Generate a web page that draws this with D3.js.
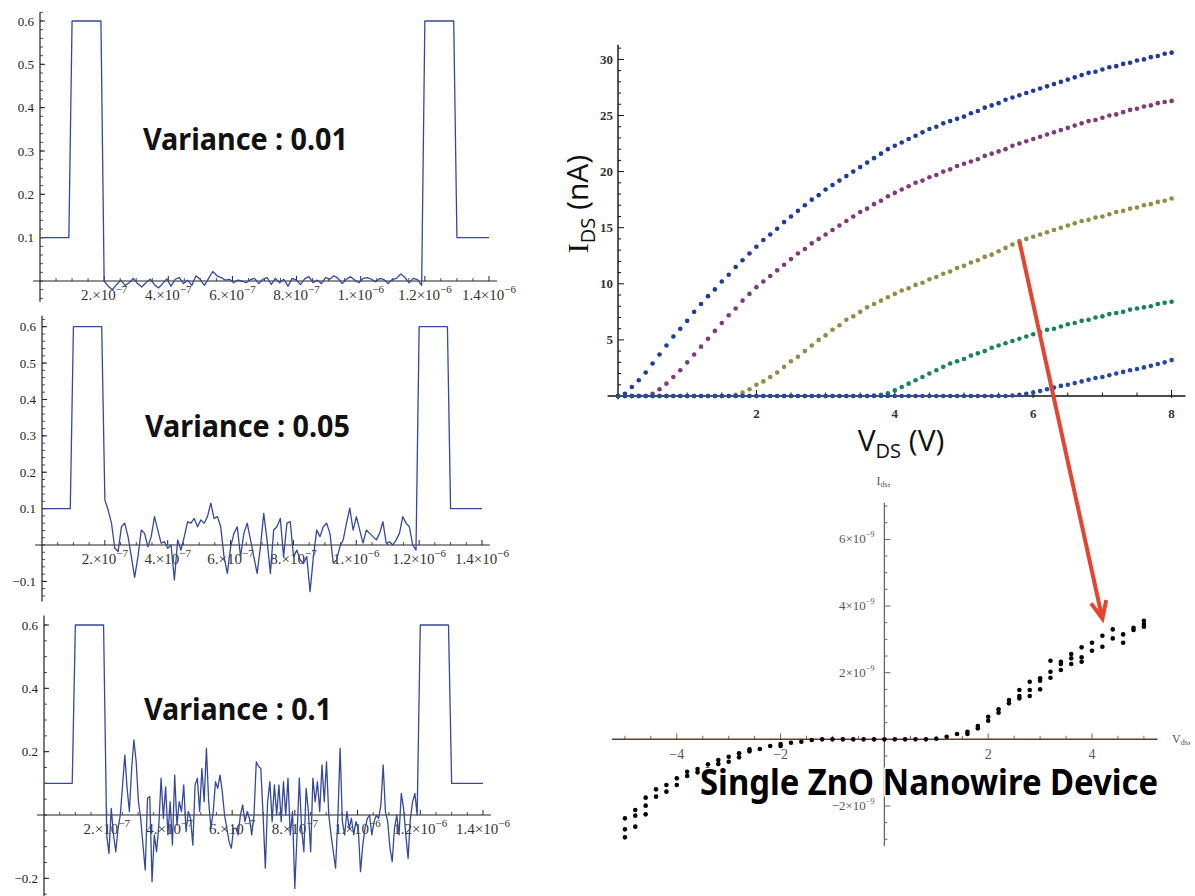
<!DOCTYPE html>
<html><head><meta charset="utf-8">
<script src="https://cdn.jsdelivr.net/npm/d3@7"></script>
<style>body{margin:0;background:#fff}svg{display:block}</style>
</head><body>
<svg id="c" width="1195" height="896"></svg>
<script>
// ---------------- DATA ----------------
// Left: pulse waveforms (time in units of 1e-6 s)
const pulseHeadT = [0, 0.09, 0.10, 0.19];
const pulseHeadV = [0.1, 0.1, 0.6, 0.6];
const pulseTailT = [1.20, 1.29, 1.30, 1.40];
const pulseTailV = [0.6, 0.6, 0.1, 0.1];
const noiseStartT = 0.20, noiseEndT = 1.19;
const noise001 = [0,-0.012,-0.02,-0.008,0.002,-0.01,-0.004,0.006,-0.006,-0.014,-0.004,0.004,-0.008,-0.016,-0.006,0.005,-0.012,0.004,0.008,-0.006,0.002,-0.01,0.012,0.004,-0.01,0.006,0.022,0.012,0.008,0.002,0.004,-0.004,0.002,0,-0.004,0.003,0.006,-0.006,0.004,0.008,-0.008,0.006,-0.004,0.004,-0.012,0.006,0.002,-0.008,0.005,0.01,-0.004,0.002,-0.006,0.008,0.004,0.012,0.006,-0.006,0.004,0.01,0.002,-0.004,0.006,0.008,0.004,-0.002,0.006,0.003,-0.006,0.004,0.006,0.016,0.008,-0.004,0.006,0.003,-0.01];
const noise005 = [0.124,0.096,0.060,-0.009,-0.018,0.050,0.060,0.023,-0.032,-0.089,-0.032,0.041,0.032,-0.005,0.023,0.078,0.041,0.005,0.009,-0.009,0.0,-0.096,0.014,-0.014,0.023,0.064,0.060,0.073,0.050,0.069,0.060,0.078,0.115,0.073,0.078,0.050,-0.032,-0.078,-0.005,0.032,0.050,-0.032,0.032,0.060,0.014,-0.032,-0.078,-0.005,0.087,0.014,-0.078,0.041,0.050,0.073,-0.032,0.060,0.064,-0.032,-0.014,-0.041,-0.050,-0.032,-0.128,-0.032,0.041,0.023,0.050,0.060,0.032,-0.050,-0.041,-0.005,0.014,0.060,0.101,0.041,0.078,0.041,0.005,0.041,0.032,0.023,0.014,0.032,0.064,0.005,0.009,0.0,0.014,0.032,0.078,0.060,0.050,0.0,-0.014];
const noise01 = [-0.063,-0.121,0.021,-0.063,-0.116,-0.042,0,0.095,0.189,0.084,0.011,0.147,0.237,0.168,0.042,-0.011,-0.095,-0.174,0.053,0.058,-0.211,-0.063,-0.116,-0.032,0.116,-0.011,0.089,-0.063,0.042,-0.095,0.126,-0.032,0.042,0.011,0.095,-0.053,0.011,-0.011,-0.095,0.095,0.116,0.011,0.147,0.042,0.211,0.042,-0.042,0.011,0.105,0.084,0.126,0.074,0,-0.042,-0.084,-0.105,-0.042,-0.042,-0.063,0,0.032,-0.021,0.011,-0.011,-0.063,0,0.168,0.153,0.147,0,-0.168,0.042,0.105,-0.021,0.095,0,0.095,-0.021,0.105,0,0.116,-0.063,0.011,-0.232,-0.063,0.116,-0.042,-0.116,0.084,0.011,-0.116,0.116,0.042,0.105,0.011,0.158,0.042,0.168,0,-0.063,-0.116,-0.168,-0.011,0.211,-0.021,-0.063,0.011,-0.042,-0.011,-0.063,-0.021,-0.042,-0.179,-0.095,-0.042,-0.011,0,-0.063,-0.021,0,-0.011,0.032,0.158,0.011,-0.021,-0.105,-0.147,-0.042,0,-0.063,0.068,0.021,-0.063,-0.137,-0.011,0.042,0.068,0];
const varianceLabels = ["Variance : 0.01", "Variance : 0.05", "Variance : 0.1"];
const timeTickVals = [0.2, 0.4, 0.6, 0.8, 1.0, 1.2, 1.4];
const timeTickMant = ["2.", "4.", "6.", "8.", "1.", "1.2", "1.4"];
const timeTickExp  = ["−7", "−7", "−7", "−7", "−6", "−6", "−6"];

// Top right: I-V curves (V in volts, I in nA), sampled every 0.1 V from 0 to 8
const ivStepV = 0.1;
const ivCurveA = [0,0.2,0.8,1.4,2.1,2.9,3.7,4.5,5.3,6.0,6.7,7.5,8.2,8.9,9.5,10.2,10.8,11.5,12.1,12.7,13.3,13.9,14.4,14.9,15.5,16.0,16.5,17.0,17.5,17.9,18.4,18.8,19.2,19.6,20.0,20.4,20.8,21.2,21.6,22.0,22.3,22.6,22.9,23.2,23.5,23.8,24.0,24.3,24.5,24.7,24.9,25.2,25.4,25.7,25.9,26.1,26.4,26.6,26.8,27.0,27.2,27.4,27.6,27.8,28.0,28.2,28.4,28.6,28.8,28.9,29.1,29.3,29.4,29.6,29.7,29.9,30.0,30.2,30.3,30.5,30.6];
const ivCurveB = [0,0,0,0,0,0.2,0.6,1.1,1.7,2.3,3.0,3.7,4.4,5.1,5.8,6.5,7.2,7.8,8.5,9.1,9.7,10.2,10.7,11.2,11.7,12.2,12.7,13.1,13.6,14.0,14.4,14.8,15.2,15.6,16.0,16.4,16.7,17.1,17.4,17.8,18.1,18.4,18.7,19.0,19.2,19.5,19.7,20.0,20.2,20.5,20.7,20.9,21.1,21.4,21.6,21.8,22.0,22.3,22.5,22.7,22.9,23.1,23.3,23.5,23.7,23.9,24.1,24.3,24.5,24.6,24.8,25.0,25.1,25.3,25.5,25.6,25.8,25.9,26.1,26.2,26.3];
const ivCurveC = [0,0,0,0,0,0,0,0,0,0,0,0,0,0,0,0,0,0.1,0.3,0.6,1.0,1.3,1.7,2.1,2.6,3.1,3.5,4.0,4.5,5.0,5.4,5.9,6.3,6.8,7.1,7.5,7.9,8.2,8.5,8.8,9.1,9.4,9.6,9.9,10.1,10.4,10.6,10.9,11.1,11.4,11.6,11.9,12.1,12.4,12.6,12.9,13.2,13.5,13.8,14.0,14.2,14.4,14.6,14.8,15.0,15.2,15.4,15.6,15.7,15.9,16.0,16.2,16.4,16.5,16.7,16.8,17.0,17.1,17.3,17.4,17.6];
const ivCurveD = [0,0,0,0,0,0,0,0,0,0,0,0,0,0,0,0,0,0,0,0,0,0,0,0,0,0,0,0,0,0,0,0,0,0,0,0,0,0.05,0.1,0.25,0.5,0.8,1.1,1.4,1.7,2.0,2.3,2.6,2.9,3.1,3.3,3.6,3.8,4.0,4.3,4.5,4.7,4.9,5.1,5.3,5.5,5.7,5.9,6.0,6.2,6.4,6.5,6.7,6.8,7.0,7.1,7.3,7.4,7.5,7.7,7.8,7.9,8.0,8.2,8.3,8.4];
const ivCurveE = [0,0,0,0,0,0,0,0,0,0,0,0,0,0,0,0,0,0,0,0,0,0,0,0,0,0,0,0,0,0,0,0,0,0,0,0,0,0,0,0,0,0,0,0,0,0,0,0,0,0,0,0,0,0,0,0,0,0.05,0.1,0.2,0.3,0.45,0.6,0.75,0.9,1.0,1.15,1.3,1.45,1.6,1.7,1.85,2.0,2.15,2.3,2.4,2.55,2.7,2.85,3.0,3.2];
const ivColors = ["#1f3a98", "#7d3b7c", "#8f8c44", "#17825c", "#2848a0"];
const ivXTicks = [2, 4, 6, 8];
const ivYTicks = [5, 10, 15, 20, 25, 30];

// Bottom right: single ZnO nanowire scatter (V, I in units of 1e-9 A)
const scatterV = [-5,-5,-5,-4.8,-4.8,-4.8,-4.6,-4.6,-4.6,-4.4,-4.4,-4.2,-4.2,-4,-4,-3.8,-3.8,-3.6,-3.6,-3.4,-3.4,-3.2,-3.2,-3,-3,-2.8,-2.8,-2.6,-2.6,-2.4,-2.2,-2,-2,-1.8,-1.6,-1.4,-1.2,-1,-0.8,-0.6,-0.4,-0.2,0,0.2,0.4,0.6,0.8,1,1.2,1.4,1.6,1.6,1.8,1.8,2,2,2.2,2.2,2.4,2.4,2.6,2.6,2.6,2.8,2.8,2.8,3,3,3,3.2,3.2,3.2,3.4,3.4,3.4,3.6,3.6,3.6,3.8,3.8,3.8,4,4,4.2,4.2,4.4,4.4,4.6,4.6,4.8,4.8,5,5,5];
const scatterI = [-2.37,-2.70,-2.94,-2.12,-2.29,-2.62,-1.75,-1.99,-2.25,-1.50,-1.72,-1.37,-1.57,-1.17,-1.37,-0.97,-1.10,-0.89,-0.99,-0.75,-0.89,-0.62,-0.74,-0.52,-0.67,-0.42,-0.54,-0.30,-0.36,-0.29,-0.20,-0.14,-0.20,-0.10,-0.07,-0.02,0,0,0,0,0,0,0,0,0,0,0,0.02,0.08,0.16,0.23,0.16,0.40,0.33,0.68,0.56,0.90,0.80,1.18,1.08,1.48,1.30,1.23,1.73,1.48,1.30,1.83,1.76,1.50,2.36,2.03,1.85,2.33,2.26,2.08,2.56,2.43,2.26,2.76,2.46,2.33,2.90,2.66,3.11,2.78,3.30,3.03,3.15,2.90,3.35,3.28,3.56,3.46,3.38];
const scXTicks = [-4, -2, 2, 4];
const scXTickLabels = ["−4", "−2", "2", "4"];
const scYTicks = [6, 4, 2, -2];
const scYTickMant = ["6", "4", "2", "−2"];
const deviceLabel = "Single ZnO Nanowire Device";
// arrow: from a point on curve C to a point on the scatter
const arrowFrom = {v: 5.8, i: 13.8};
const arrowTo = {v: 4.2, i: 3.62};

// ---------------- DRAW ----------------
const svg = d3.select("#c");
const serif = "'Liberation Serif','DejaVu Serif',serif";
const boldSans = "'Noto Sans','Open Sans',sans-serif";
const lineColor = "#34499c";

const leftPanels = [
  {noise: noise001, x: [40, 489], y0: 281, y06: 21, yLine: [-0.048, 0.62], major: [0.1,0.2,0.3,0.4,0.5,0.6], minorStep: 0.02, minorRange: [-0.04, 0.62], labelPos: [143, 150, 205]},
  {noise: noise005, x: [42, 482], y0: 545, y06: 326.7, yLine: [-0.155, 0.63], major: [-0.1,0.1,0.2,0.3,0.4,0.5,0.6], minorStep: 0.02, minorRange: [-0.14, 0.62], labelPos: [145, 437, 205]},
  {noise: noise01, x: [44, 483], y0: 815, y06: 625, yLine: [-0.27, 0.63], major: [-0.2,0.2,0.4,0.6], minorStep: 0.05, minorRange: [-0.25, 0.6], labelPos: [144, 720, 188]}
];

leftPanels.forEach((p, k) => {
  const g = svg.append("g");
  const x = d3.scaleLinear().domain([0, 1.4]).range(p.x);
  const y = d3.scaleLinear().domain([0, 0.6]).range([p.y0, p.y06]);
  const axColor = "#222";
  g.append("line").attr("x1", x(0)).attr("x2", x(0)).attr("y1", y(p.yLine[0])).attr("y2", y(p.yLine[1]))
    .attr("stroke", axColor).attr("stroke-width", 1.2);
  g.append("line").attr("x1", x(-0.022)).attr("x2", x(1.425)).attr("y1", y(0)).attr("y2", y(0))
    .attr("stroke", axColor).attr("stroke-width", 1.2);
  const nMinor = Math.round((p.minorRange[1] - p.minorRange[0]) / p.minorStep);
  for (let i = 0; i <= nMinor; i++) {
    const v = p.minorRange[0] + i * p.minorStep;
    g.append("line").attr("x1", x(0)).attr("x2", x(0) + 3).attr("y1", y(v)).attr("y2", y(v))
      .attr("stroke", axColor).attr("stroke-width", 0.8);
  }
  p.major.forEach(v => {
    g.append("line").attr("x1", x(0)).attr("x2", x(0) + 5).attr("y1", y(v)).attr("y2", y(v))
      .attr("stroke", axColor).attr("stroke-width", 1);
    g.append("text").attr("x", x(0) - 6).attr("y", y(v) + 4.5).attr("text-anchor", "end")
      .attr("font-family", serif).attr("font-size", 13).attr("fill", "#222")
      .text((v < 0 ? "−" : "") + Math.abs(v).toFixed(1));
  });
  for (let i = 1; i <= 28; i++) {
    const t = i * 0.05;
    const major = (i % 4 === 0);
    g.append("line").attr("x1", x(t)).attr("x2", x(t)).attr("y1", y(0)).attr("y2", y(0) - (major ? 5 : 3))
      .attr("stroke", axColor).attr("stroke-width", major ? 1 : 0.8);
  }
  timeTickVals.forEach((t, j) => {
    const tx = g.append("text").attr("x", x(t)).attr("y", y(0) + 19).attr("text-anchor", "middle")
      .attr("font-family", serif).attr("font-size", 15).attr("fill", "#333");
    tx.append("tspan").text(timeTickMant[j] + "×10");
    tx.append("tspan").attr("dy", -7).attr("font-size", 11).text(timeTickExp[j]);
  });
  const n = p.noise.length;
  const pts = [];
  pulseHeadT.forEach((t, i) => pts.push([t, pulseHeadV[i]]));
  p.noise.forEach((v, i) => pts.push([noiseStartT + i * (noiseEndT - noiseStartT) / (n - 1), v]));
  pulseTailT.forEach((t, i) => pts.push([t, pulseTailV[i]]));
  g.append("path").attr("d", d3.line().x(d => x(d[0])).y(d => y(d[1]))(pts))
    .attr("fill", "none").attr("stroke", lineColor).attr("stroke-width", 1.3).attr("stroke-linejoin", "round");
  g.append("text").attr("x", p.labelPos[0]).attr("y", p.labelPos[1])
    .attr("font-family", boldSans).attr("font-weight", 700).attr("font-size", 30)
    .attr("textLength", p.labelPos[2]).attr("lengthAdjust", "spacingAndGlyphs")
    .attr("fill", "#111").text(varianceLabels[k]);
});

// ---- I-V panel ----
const ivX = d3.scaleLinear().domain([0, 8]).range([618, 1171.6]);
const ivY = d3.scaleLinear().domain([0, 30]).range([396, 59.4]);
const ivG = svg.append("g");
ivG.append("line").attr("x1", ivX(0)).attr("x2", ivX(0)).attr("y1", ivY(-0.3)).attr("y2", ivY(31.3))
  .attr("stroke", "#111").attr("stroke-width", 1.4);
ivG.append("line").attr("x1", ivX(-0.15)).attr("x2", ivX(8.2)).attr("y1", ivY(0)).attr("y2", ivY(0))
  .attr("stroke", "#111").attr("stroke-width", 1.4);
for (let i = 1; i <= 31; i++) {
  const major = i % 5 === 0;
  ivG.append("line").attr("x1", ivX(0)).attr("x2", ivX(0) + (major ? 6 : 3)).attr("y1", ivY(i)).attr("y2", ivY(i))
    .attr("stroke", "#111").attr("stroke-width", 1);
}
for (let i = 1; i <= 16; i++) {
  const v = i * 0.5;
  const major = i % 4 === 0;
  ivG.append("line").attr("x1", ivX(v)).attr("x2", ivX(v)).attr("y1", ivY(0) + (major ? 2 : 0)).attr("y2", ivY(0) - (major ? 6 : 3.5))
    .attr("stroke", "#111").attr("stroke-width", 1);
}
ivYTicks.forEach(v => ivG.append("text").attr("x", ivX(0) - 5).attr("y", ivY(v) + 4.5).attr("text-anchor", "end")
  .attr("font-family", serif).attr("font-size", 13).attr("font-weight", 700).attr("fill", "#333").text(v));
ivXTicks.forEach(v => ivG.append("text").attr("x", ivX(v)).attr("y", ivY(0) + 22).attr("text-anchor", "middle")
  .attr("font-family", serif).attr("font-size", 13).attr("font-weight", 700).attr("fill", "#333").text(v));
[ivCurveA, ivCurveB, ivCurveC, ivCurveD, ivCurveE].forEach((arr, s) => {
  ivG.append("g").selectAll("circle").data(arr).join("circle")
    .attr("cx", (d, i) => ivX(i * ivStepV)).attr("cy", d => ivY(d)).attr("r", 2.3)
    .attr("fill", ivColors[s]);
});
const yl = ivG.append("text").attr("transform", "translate(588,204) rotate(-90)").attr("text-anchor", "middle")
  .attr("font-family", "'Open Sans','DejaVu Sans',sans-serif").attr("font-size", 30).attr("fill", "#111");
yl.append("tspan").attr("font-family", serif).text("I");
yl.append("tspan").attr("font-size", 20).attr("dy", 7).text("DS");
yl.append("tspan").attr("dy", -7).text(" (nA)");
const xl = ivG.append("text").attr("x", 901).attr("y", 451).attr("text-anchor", "middle")
  .attr("font-family", "'Open Sans','DejaVu Sans',sans-serif").attr("font-size", 30).attr("fill", "#111");
xl.append("tspan").text("V");
xl.append("tspan").attr("font-size", 20).attr("dy", 7).text("DS");
xl.append("tspan").attr("dy", -7).text(" (V)");

// ---- scatter panel ----
const scX = d3.scaleLinear().domain([-5, 5]).range([624.9, 1143.9]);
const scY = d3.scaleLinear().domain([-2, 6]).range([806, 539.4]);
const scG = svg.append("g");
scG.append("line").attr("x1", scX(0)).attr("x2", scX(0)).attr("y1", scY(-3.2)).attr("y2", scY(7.1))
  .attr("stroke", "#666").attr("stroke-width", 1.3);
for (let i = -6; i <= 14; i++) {
  const v = i * 0.5;
  if (v === 0) continue;
  const major = i % 4 === 0;
  scG.append("line").attr("x1", scX(0)).attr("x2", scX(0) + (major ? 6 : 3)).attr("y1", scY(v)).attr("y2", scY(v))
    .attr("stroke", "#666").attr("stroke-width", 1);
}
for (let i = -10; i <= 10; i++) {
  const v = i * 0.5;
  if (v === 0) continue;
  const major = i % 4 === 0;
  scG.append("line").attr("x1", scX(v)).attr("x2", scX(v)).attr("y1", scY(0)).attr("y2", scY(0) - (major ? 6 : 3.5))
    .attr("stroke", "#666").attr("stroke-width", 1);
}
scG.append("line").attr("x1", scX(-5.25)).attr("x2", scX(5.26)).attr("y1", scY(0)).attr("y2", scY(0))
  .attr("stroke", "#7a3128").attr("stroke-width", 1.5);
scYTicks.forEach((v, j) => {
  const t = scG.append("text").attr("x", scX(0) - 10).attr("y", scY(v) + 4).attr("text-anchor", "end")
    .attr("font-family", serif).attr("font-size", 13).attr("fill", "#555");
  t.append("tspan").text(scYTickMant[j] + "×10");
  t.append("tspan").attr("dy", -6).attr("font-size", 8).text("−9");
});
scXTicks.forEach((v, j) => scG.append("text").attr("x", scX(v)).attr("y", scY(0) + 20).attr("text-anchor", "middle")
  .attr("font-family", serif).attr("font-size", 14).attr("fill", "#555").text(scXTickLabels[j]));
const il = scG.append("text").attr("x", scX(0) - 8).attr("y", 485).attr("font-family", serif).attr("font-size", 12).attr("fill", "#555");
il.append("tspan").text("I"); il.append("tspan").attr("font-size", 8).attr("dy", 2).text("ds"); il.append("tspan").attr("dy", -2).text(",");
const vl = scG.append("text").attr("x", 1172).attr("y", scY(0) + 4).attr("font-family", serif).attr("font-size", 12).attr("fill", "#555");
vl.append("tspan").text("V"); vl.append("tspan").attr("font-size", 8).attr("dy", 2).text("ds"); vl.append("tspan").attr("dy", -2).text(",");
scG.append("g").selectAll("circle").data(scatterV).join("circle")
  .attr("cx", d => scX(d)).attr("cy", (d, i) => scY(scatterI[i])).attr("r", 2.3).attr("fill", "#000");
scG.append("text").attr("x", 700).attr("y", 795)
  .attr("font-family", boldSans).attr("font-weight", 700).attr("font-size", 35)
  .attr("textLength", 458).attr("lengthAdjust", "spacingAndGlyphs")
  .attr("fill", "#000").attr("stroke", "#fff").attr("stroke-width", 3).attr("paint-order", "stroke")
  .text(deviceLabel);

// ---- arrow ----
const ax1 = ivX(arrowFrom.v), ay1 = ivY(arrowFrom.i);
const ax2 = scX(arrowTo.v), ay2 = scY(arrowTo.i);
const ang = Math.atan2(ay2 - ay1, ax2 - ax1);
const headLen = 19, headAng = 0.42;
const arrowColor = "#e5442f";
svg.append("line").attr("x1", ax1).attr("y1", ay1).attr("x2", ax2).attr("y2", ay2)
  .attr("stroke", arrowColor).attr("stroke-width", 4);
svg.append("path")
  .attr("d", `M${ax2 - headLen * Math.cos(ang - headAng)},${ay2 - headLen * Math.sin(ang - headAng)} L${ax2},${ay2} L${ax2 - headLen * Math.cos(ang + headAng)},${ay2 - headLen * Math.sin(ang + headAng)}`)
  .attr("fill", "none").attr("stroke", arrowColor).attr("stroke-width", 4).attr("stroke-linejoin", "miter");
</script>
</body></html>
